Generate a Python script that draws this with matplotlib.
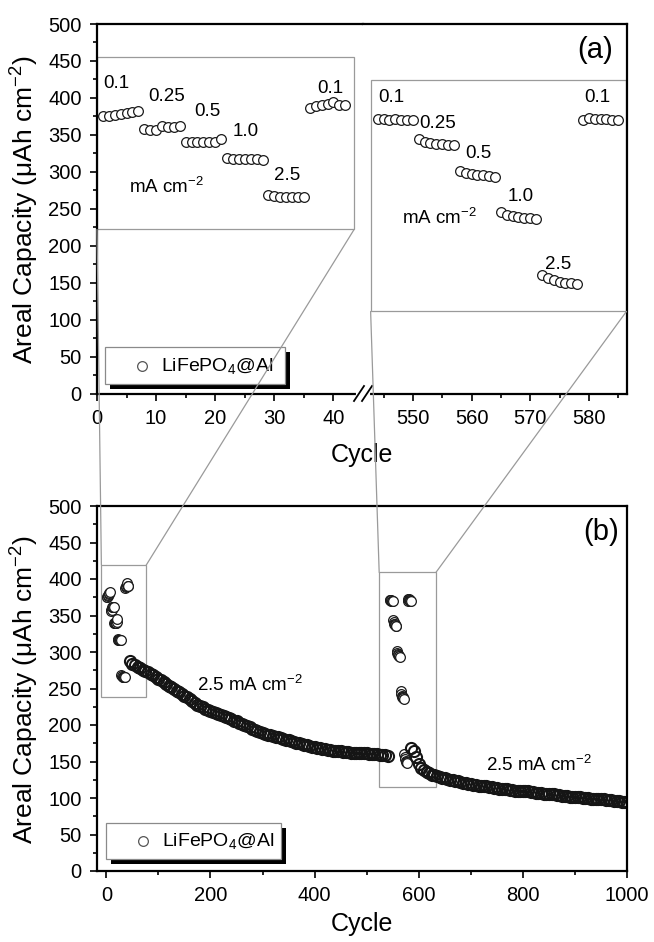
import matplotlib.pyplot as plt
import numpy as np
from matplotlib.patches import Rectangle, ConnectionPatch
from matplotlib.lines import Line2D

plt.rcParams['font.family'] = ['Liberation Sans', 'DejaVu Sans']
plt.rcParams['mathtext.fontset'] = 'custom'
plt.rcParams['mathtext.rm'] = 'Liberation Sans'
plt.rcParams['mathtext.it'] = 'Liberation Sans:italic'
plt.rcParams['mathtext.bf'] = 'Liberation Sans:bold'

# rate test at the start (0.1, 0.25, 0.5, 1.0, 2.5, 0.1 mA cm-2, 7 cycles each)
rate_cycles_1 = np.arange(1, 43)
rate_cap_1 = [375, 376, 377, 378, 379, 381, 382,
              358, 356, 357, 362, 361, 361, 362,
              340, 340, 340, 340, 340, 341, 345,
              318, 317, 317, 317, 317, 317, 316,
              268, 267, 266, 266, 266, 266, 266,
              387, 389, 390, 392, 394, 391, 390]

# rate test after ~540 cycles
rate_cycles_2 = np.arange(544, 586)
rate_cap_2 = [371, 371, 370, 371, 370, 370, 370,
              344, 341, 339, 338, 337, 336, 336,
              301, 298, 297, 296, 295, 294, 293,
              246, 242, 240, 239, 238, 237, 236,
              160, 156, 153, 151, 150, 149, 148,
              370, 373, 372, 371, 371, 370, 370]

# long cycling at 2.5 mA cm-2 (read every 5 cycles)
long_cycles_1 = np.arange(45, 545, 5)
long_cap_1 = [287, 284, 282, 280, 278, 276, 274, 272, 270, 268,
              266, 263, 261, 259, 256, 254, 252, 250, 247, 245,
              242, 240, 238, 235, 233, 230, 228, 226, 224, 222,
              221, 219, 218, 216, 215, 214, 212, 211, 210, 208,
              206, 205, 203, 202, 200, 198, 197, 195, 193, 192,
              190, 189, 188, 186, 186, 185, 184, 183, 182, 181,
              180, 179, 178, 177, 176, 175, 174, 173, 172, 171,
              170, 170, 169, 168, 167, 167, 166, 166, 165, 165,
              164, 164, 163, 163, 163, 162, 162, 162, 161, 161,
              161, 161, 160, 160, 160, 160, 159, 159, 159, 158]

long_cycles_2 = np.concatenate([[586], np.arange(590, 1001, 5)])
long_cap_2 = [168,
              165, 156, 146, 141, 138, 136, 134, 132, 131, 130,
              129, 128, 127, 126, 125, 124, 123, 123, 122, 121,
              120, 119, 119, 118, 118, 117, 117, 116, 116, 115,
              115, 114, 114, 113, 113, 112, 112, 111, 111, 110,
              110, 110, 109, 109, 109, 108, 108, 107, 107, 107,
              106, 106, 105, 105, 105, 104, 104, 103, 103, 103,
              102, 102, 102, 101, 101, 100, 100, 100, 99, 99,
              99, 98, 98, 98, 97, 97, 97, 96, 96, 96,
              95, 95, 95]

rate_labels_1 = ['0.1', '0.25', '0.5', '1.0', '2.5', '0.1']
rate_label_pos_1 = [(3.2, 420), (11.7, 402), (18.6, 381), (25.2, 354), (32.1, 295), (39.4, 413)]
rate_labels_2 = ['0.1', '0.25', '0.5', '1.0', '2.5', '0.1']
rate_label_pos_2 = [(546.3, 400), (554.3, 366), (561.1, 325), (568.3, 266), (574.7, 175), (581.5, 400)]

W, H = 654, 942


def fx(x):
    return x / W


def fy(y):
    return 1 - y / H


fig = plt.figure(figsize=(6.54, 9.42), dpi=100)
axL = fig.add_axes([fx(97), fy(393.5), (363 - 97) / W, (393.5 - 24) / H])
axR = fig.add_axes([fx(363), fy(393.5), (627 - 363) / W, (393.5 - 24) / H])
axB = fig.add_axes([fx(97), fy(871), (627 - 97) / W, (871 - 506) / H])

for ax in (axL, axR, axB):
    for s in ax.spines.values():
        s.set_linewidth(1.6)
    ax.tick_params(which='both', direction='out', top=False, right=False,
                   width=1.2, labelsize=14.5, pad=6)
    ax.tick_params(which='major', length=5)
    ax.tick_params(which='minor', length=3)
    ax.set_ylim(0, 500)
    ax.set_yticks(np.arange(0, 501, 50))
    ax.set_yticks(np.arange(25, 500, 50), minor=True)

axL.spines['right'].set_visible(False)
axR.spines['left'].set_visible(False)
axR.tick_params(axis='y', which='both', left=False, labelleft=False)

axL.set_xlim(0, 45)
axL.set_xticks([0, 10, 20, 30, 40])
axL.set_xticks([5, 15, 25, 35], minor=True)
axR.set_xlim(541.5, 586.5)
axR.set_xticks([550, 560, 570, 580])
axR.set_xticks([545, 555, 565, 575, 585], minor=True)
axB.set_xlim(-18, 1000)
axB.set_xticks(np.arange(0, 1001, 200))
axB.set_xticks(np.arange(100, 1000, 200), minor=True)

mk = dict(ls='none', marker='o', ms=7, mfc='white', mec='#1a1a1a', mew=0.9)
band = dict(ls='none', marker='o', ms=8, mfc='none', mec='#151515', mew=1.5)
axL.plot(rate_cycles_1, rate_cap_1, **mk)
axR.plot(rate_cycles_2, rate_cap_2, **mk)

axB.plot(rate_cycles_1, rate_cap_1, **mk)
axB.plot(long_cycles_1, long_cap_1, **band)
axB.plot(rate_cycles_2, rate_cap_2, **mk)
axB.plot(long_cycles_2, long_cap_2, **band)

for s, (x, y) in zip(rate_labels_1, rate_label_pos_1):
    axL.text(x, y, s, ha='center', va='center', fontsize=13.5)
for s, (x, y) in zip(rate_labels_2, rate_label_pos_2):
    axR.text(x, y, s, ha='center', va='center', fontsize=13.5)
axL.text(11.8, 279, 'mA cm$^{-2}$', ha='center', va='center', fontsize=13.5)
axR.text(554.5, 238, 'mA cm$^{-2}$', ha='center', va='center', fontsize=13.5)
axB.text(275, 255, '2.5 mA cm$^{-2}$', ha='center', va='center', fontsize=13.5)
axB.text(831, 145, '2.5 mA cm$^{-2}$', ha='center', va='center', fontsize=13.5)
axR.text(581, 465, '(a)', ha='center', va='center', fontsize=21)
axB.text(950, 464, '(b)', ha='center', va='center', fontsize=21)

# zoom boxes and connecting lines
gc = '#9a9a9a'
axL.add_patch(Rectangle((0, 222), 43.5, 233, fill=False, ec=gc, lw=0.9, clip_on=False))
axR.add_patch(Rectangle((542.8, 111), 43.6, 313, fill=False, ec=gc, lw=0.9, clip_on=False))
axB.add_patch(Rectangle((-9.6, 238), 86.1, 181, fill=False, ec=gc, lw=0.9, clip_on=False))
axB.add_patch(Rectangle((524, 115), 109, 294, fill=False, ec=gc, lw=0.9, clip_on=False))

links = [((-9.6, 419), axL, (0, 222)), ((76.5, 419), axL, (43.5, 222)),
         ((524, 409), axR, (542.8, 111)), ((633, 409), axR, (586.4, 111))]
for xyA, ax_t, xyB in links:
    con = ConnectionPatch(xyA=xyA, coordsA='data', axesA=axB,
                          xyB=xyB, coordsB='data', axesB=ax_t,
                          color=gc, lw=0.9, zorder=6)
    fig.add_artist(con)

# axis break marks
fig.add_artist(Line2D([fx(358), fx(368)], [fy(393.5)] * 2, color='white', lw=3, zorder=4))
for dx in (-4, 4):
    fig.add_artist(Line2D([fx(363 + dx - 5), fx(363 + dx + 5)], [fy(401), fy(386)],
                          color='black', lw=1.3, zorder=4.5))


# legends with black drop shadow
def draw_legend(x0, y0, x1, y1):
    cy = (y0 + y1) / 2
    fig.add_artist(Rectangle((fx(x0 + 5), fy(y1 + 5)), (x1 - x0) / W, (y1 - y0) / H,
                             transform=fig.transFigure, fc='black', ec='none', zorder=3))
    fig.add_artist(Rectangle((fx(x0), fy(y1)), (x1 - x0) / W, (y1 - y0) / H,
                             transform=fig.transFigure, fc='white', ec='#8a8a8a',
                             lw=0.9, zorder=3.1))
    fig.add_artist(Line2D([fx(x0 + 37)], [fy(cy)], ls='none', marker='o', ms=7,
                          mfc='white', mec='#555555', mew=0.9, zorder=3.2))
    fig.text(fx(x0 + 56), fy(cy), 'LiFePO$_4$@Al', fontsize=14, ha='left',
             va='center', zorder=3.3)


draw_legend(105, 347, 285, 384)
draw_legend(106, 823, 281, 859)

ylab = 'Areal Capacity (\u03bcAh cm$^{-2}$)'
fig.text(fx(25), fy(210), ylab, rotation=90, ha='center', va='center', fontsize=19)
fig.text(fx(25), fy(690), ylab, rotation=90, ha='center', va='center', fontsize=19)
fig.text(fx(362), fy(455), 'Cycle', ha='center', va='center', fontsize=18)
fig.text(fx(362), fy(924), 'Cycle', ha='center', va='center', fontsize=18)

fig.savefig('out.png', dpi=100)
